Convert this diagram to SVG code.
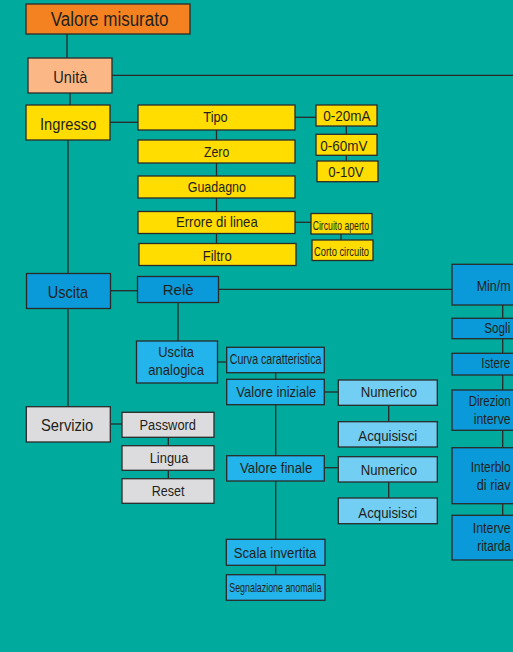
<svg xmlns="http://www.w3.org/2000/svg" width="513" height="652" viewBox="0 0 513 652">
<style>
.b{stroke:#2a2a2a;stroke-width:1.3}
.c line{stroke:#2a2a2a;stroke-width:1.3}
text{font-family:"Liberation Sans",Arial,sans-serif;fill:#231f20}
.or{fill:#F58220}.sa{fill:#FBB886}.ye{fill:#FFDD00}.db{fill:#0A9AD9}.mb{fill:#22B4EA}.lb{fill:#72CEF3}.gr{fill:#DCDCDE}
.f20{font-size:20px}.f17{font-size:17px}.f15{font-size:15px}.f14{font-size:14px}.f13{font-size:13px}.f12{font-size:12px}
</style>
<rect width="513" height="652" fill="#00AA9C"/>
<g id="connectors" class="c">
<line x1="67" y1="34" x2="67" y2="58"/>
<line x1="112" y1="75.3" x2="513" y2="75.3"/>
<line x1="70" y1="93" x2="70" y2="105"/>
<line x1="110" y1="122.3" x2="138" y2="122.3"/>
<line x1="216.5" y1="130" x2="216.5" y2="243.5"/>
<line x1="295" y1="117.3" x2="316" y2="117.3"/>
<line x1="346.3" y1="125.7" x2="346.3" y2="161"/>
<line x1="295" y1="222.3" x2="311" y2="222.3"/>
<line x1="341" y1="234" x2="341" y2="240"/>
<line x1="68" y1="140" x2="68" y2="407"/>
<line x1="110.7" y1="290.7" x2="137.5" y2="290.7"/>
<line x1="218.7" y1="289.3" x2="452" y2="289.3"/>
<line x1="178" y1="302.7" x2="178" y2="341"/>
<line x1="217.7" y1="362" x2="226.7" y2="362"/>
<line x1="275.7" y1="372.7" x2="275.7" y2="574.7"/>
<line x1="324.3" y1="392" x2="338.3" y2="392"/>
<line x1="324.3" y1="467.7" x2="338.3" y2="467.7"/>
<line x1="388.7" y1="405" x2="388.7" y2="422"/>
<line x1="388.7" y1="482" x2="388.7" y2="498"/>
<line x1="110.3" y1="424" x2="122" y2="424"/>
<line x1="168.3" y1="437" x2="168.3" y2="479"/>
<line x1="502.7" y1="305" x2="502.7" y2="515.3"/>
</g>
<g id="n-valore-misurato"><rect class="b or" x="26" y="4" width="164" height="30"/><text class="f20" x="50.7" y="26" textLength="117.7" lengthAdjust="spacingAndGlyphs">Valore misurato</text></g>
<g id="n-unita"><rect class="b sa" x="28" y="58" width="84" height="35"/><text class="f17" x="53.3" y="83" textLength="34" lengthAdjust="spacingAndGlyphs">Unità</text></g>
<g id="n-ingresso"><rect class="b ye" x="26" y="105" width="84" height="35"/><text class="f17" x="40" y="130" textLength="56.3" lengthAdjust="spacingAndGlyphs">Ingresso</text></g>
<g id="n-tipo"><rect class="b ye" x="138" y="105" width="157" height="25"/><text class="f15" x="203.3" y="121.7" textLength="24.4" lengthAdjust="spacingAndGlyphs">Tipo</text></g>
<g id="n-zero"><rect class="b ye" x="138" y="140" width="157" height="23"/><text class="f15" x="204" y="157" textLength="25.3" lengthAdjust="spacingAndGlyphs">Zero</text></g>
<g id="n-guadagno"><rect class="b ye" x="138" y="176" width="157" height="22"/><text class="f15" x="187.7" y="191.7" textLength="58.3" lengthAdjust="spacingAndGlyphs">Guadagno</text></g>
<g id="n-errore"><rect class="b ye" x="138" y="211.5" width="157" height="22"/><text class="f15" x="176" y="227.3" textLength="81.7" lengthAdjust="spacingAndGlyphs">Errore di linea</text></g>
<g id="n-filtro"><rect class="b ye" x="139" y="243.5" width="157" height="22"/><text class="f15" x="202.7" y="260.7" textLength="29" lengthAdjust="spacingAndGlyphs">Filtro</text></g>
<g id="n-020ma"><rect class="b ye" x="316" y="105" width="61" height="21"/><text class="f15" x="323.3" y="121" textLength="47.3" lengthAdjust="spacingAndGlyphs">0-20mA</text></g>
<g id="n-060mv"><rect class="b ye" x="316" y="134.3" width="61" height="21"/><text class="f15" x="320.3" y="151" textLength="47.3" lengthAdjust="spacingAndGlyphs">0-60mV</text></g>
<g id="n-010v"><rect class="b ye" x="317" y="161" width="61" height="20.7"/><text class="f15" x="328.3" y="177.3" textLength="35.3" lengthAdjust="spacingAndGlyphs">0-10V</text></g>
<g id="n-circuito-aperto"><rect class="b ye" x="311" y="213.5" width="61" height="20.5"/><text class="f12" x="312.7" y="230" textLength="56.3" lengthAdjust="spacingAndGlyphs">Circuito aperto</text></g>
<g id="n-corto-circuito"><rect class="b ye" x="312" y="240" width="61" height="20.5"/><text class="f12" x="314" y="256" textLength="55" lengthAdjust="spacingAndGlyphs">Corto circuito</text></g>
<g id="n-uscita"><rect class="b db" x="26.5" y="273.5" width="84" height="35"/><text class="f17" x="47.7" y="297.7" textLength="40.3" lengthAdjust="spacingAndGlyphs">Uscita</text></g>
<g id="n-rele"><rect class="b db" x="137.5" y="276.5" width="81" height="26"/><text class="f15" x="162.7" y="294.7" textLength="31" lengthAdjust="spacingAndGlyphs">Relè</text></g>
<g id="n-uscita-analogica"><rect class="b mb" x="136.5" y="341" width="81" height="42"/><text class="f15" x="158.3" y="356.7" textLength="35.7" lengthAdjust="spacingAndGlyphs">Uscita</text><text class="f15" x="148.3" y="375" textLength="55.7" lengthAdjust="spacingAndGlyphs">analogica</text></g>
<g id="n-curva"><rect class="b mb" x="226.7" y="347.3" width="97.6" height="25.4"/><text class="f14" x="229.7" y="364.3" textLength="91.7" lengthAdjust="spacingAndGlyphs">Curva caratteristica</text></g>
<g id="n-valore-iniziale"><rect class="b mb" x="226.7" y="379.3" width="97.6" height="25.4"/><text class="f15" x="236.3" y="397.3" textLength="80" lengthAdjust="spacingAndGlyphs">Valore iniziale</text></g>
<g id="n-valore-finale"><rect class="b mb" x="226.7" y="455.7" width="97.6" height="25.3"/><text class="f15" x="240" y="472.7" textLength="72.3" lengthAdjust="spacingAndGlyphs">Valore finale</text></g>
<g id="n-scala-invertita"><rect class="b mb" x="226.3" y="539.3" width="98.7" height="26"/><text class="f15" x="233.7" y="557.7" textLength="82.7" lengthAdjust="spacingAndGlyphs">Scala invertita</text></g>
<g id="n-segnalazione"><rect class="b mb" x="226.3" y="574.7" width="98.7" height="25.6"/><text class="f13" x="229.3" y="591.7" textLength="92" lengthAdjust="spacingAndGlyphs">Segnalazione anomalia</text></g>
<g id="n-numerico1"><rect class="b lb" x="338.3" y="380" width="99" height="25.3"/><text class="f14" x="360.7" y="396.7" textLength="56.3" lengthAdjust="spacingAndGlyphs">Numerico</text></g>
<g id="n-acquisisci1"><rect class="b lb" x="338.3" y="421.7" width="99" height="25.3"/><text class="f14" x="358.3" y="440.7" textLength="59" lengthAdjust="spacingAndGlyphs">Acquisisci</text></g>
<g id="n-numerico2"><rect class="b lb" x="338.3" y="456.7" width="99" height="25.3"/><text class="f14" x="360.7" y="475.3" textLength="56.3" lengthAdjust="spacingAndGlyphs">Numerico</text></g>
<g id="n-acquisisci2"><rect class="b lb" x="338.3" y="498" width="99" height="25.7"/><text class="f14" x="358.3" y="517.7" textLength="59" lengthAdjust="spacingAndGlyphs">Acquisisci</text></g>
<g id="n-servizio"><rect class="b gr" x="26.3" y="406.7" width="84" height="35.3"/><text class="f17" x="41" y="430.7" textLength="52.3" lengthAdjust="spacingAndGlyphs">Servizio</text></g>
<g id="n-password"><rect class="b gr" x="122" y="412.3" width="92" height="25"/><text class="f14" x="139.5" y="430.3" textLength="56.5" lengthAdjust="spacingAndGlyphs">Password</text></g>
<g id="n-lingua"><rect class="b gr" x="122" y="445.7" width="92" height="24.6"/><text class="f14" x="149.7" y="462.7" textLength="38.7" lengthAdjust="spacingAndGlyphs">Lingua</text></g>
<g id="n-reset"><rect class="b gr" x="122" y="478.7" width="92" height="24.6"/><text class="f14" x="151.7" y="495.7" textLength="32.7" lengthAdjust="spacingAndGlyphs">Reset</text></g>
<g id="n-minmax"><rect class="b db" x="452" y="264.3" width="101" height="40.7"/><text class="f14" x="476.7" y="290.7" textLength="34" lengthAdjust="spacingAndGlyphs">Min/m</text></g>
<g id="n-soglie"><rect class="b db" x="452" y="318.3" width="101" height="20.4"/><text class="f14" x="484.3" y="333.3" textLength="26" lengthAdjust="spacingAndGlyphs">Sogli</text></g>
<g id="n-isteresi"><rect class="b db" x="452" y="353.3" width="101" height="21.7"/><text class="f14" x="481.3" y="368.3" textLength="29" lengthAdjust="spacingAndGlyphs">Istere</text></g>
<g id="n-direzione"><rect class="b db" x="452" y="390" width="101" height="40.3"/><text class="f14" x="468.7" y="405.7" textLength="42" lengthAdjust="spacingAndGlyphs">Direzion</text><text class="f14" x="473.7" y="424" textLength="37" lengthAdjust="spacingAndGlyphs">interve</text></g>
<g id="n-interblocco"><rect class="b db" x="452" y="447.7" width="101" height="56"/><text class="f14" x="470.7" y="471.7" textLength="40" lengthAdjust="spacingAndGlyphs">Interblo</text><text class="f14" x="476.7" y="490" textLength="34" lengthAdjust="spacingAndGlyphs">di riav</text></g>
<g id="n-intervento"><rect class="b db" x="452" y="515.3" width="101" height="44.7"/><text class="f14" x="472.7" y="533.3" textLength="38" lengthAdjust="spacingAndGlyphs">Interve</text><text class="f14" x="477.3" y="551" textLength="33.5" lengthAdjust="spacingAndGlyphs">ritarda</text></g>
</svg>
